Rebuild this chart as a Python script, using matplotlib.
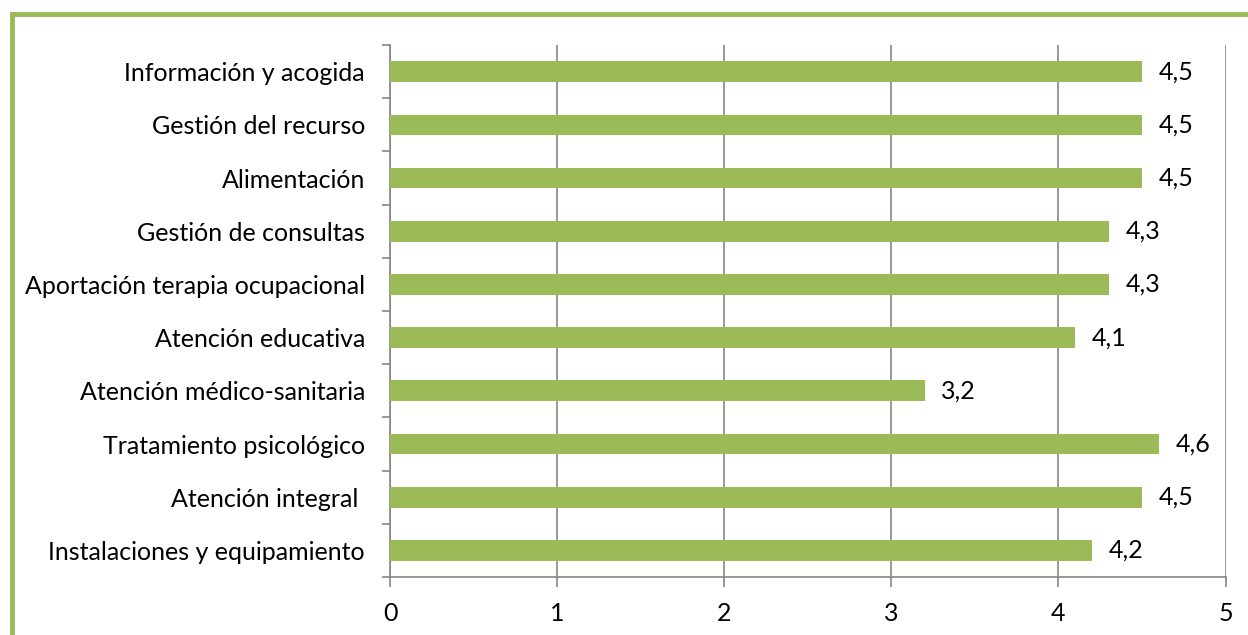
import matplotlib.pyplot as plt
from matplotlib.patches import Rectangle
import numpy as np

categories = ["Información y acogida", "Gestión del recurso", "Alimentación",
              "Gestión de consultas", "Aportación terapia ocupacional",
              "Atención educativa", "Atención médico-sanitaria",
              "Tratamiento psicológico", "Atención integral ",
              "Instalaciones y equipamiento"]
values = [4.5, 4.5, 4.5, 4.3, 4.3, 4.1, 3.2, 4.6, 4.5, 4.2]

plt.rcParams['font.family'] = ['Lato', 'DejaVu Sans']

fig = plt.figure(figsize=(12.48, 6.35), dpi=100)
ax = fig.add_axes([0.3125, 0.0913, 0.982 - 0.3125, 0.929 - 0.0913])

pos = np.arange(len(categories))[::-1]
ax.barh(pos, values, height=0.39, color="#9BBB59", zorder=3)
for p, v in zip(pos, values):
    ax.text(v + 0.1, p, f"{v:.1f}".replace(".", ","), va="center", ha="left",
            fontsize=18, color="black")

ax.set_xlim(0, 5)
ax.set_ylim(-0.5, len(categories) - 0.5)
ax.set_xticks(range(6))
ax.set_yticks(pos)
ax.set_yticklabels(categories)
ax.set_yticks(np.arange(-0.5, len(categories)), minor=True)
ax.tick_params(axis="y", which="major", length=0, pad=18, labelsize=18)
ax.tick_params(axis="y", which="minor", length=6, color="#868686", width=1.2)
ax.tick_params(axis="x", length=7, color="#868686", width=1.2, labelsize=18, pad=11)
ax.grid(axis="x", color="#868686", linewidth=1.2, zorder=0)
for s in ["top", "right"]:
    ax.spines[s].set_visible(False)
for s in ["left", "bottom"]:
    ax.spines[s].set_color("#868686")
    ax.spines[s].set_linewidth(1.2)

fig.patches.append(Rectangle((11.5 / 1248, -0.1), 1.2, 1 - 14 / 635 + 0.1,
                             transform=fig.transFigure, fill=False,
                             edgecolor="#9BBB59", linewidth=3.5))

fig.savefig("out.png", dpi=100)
